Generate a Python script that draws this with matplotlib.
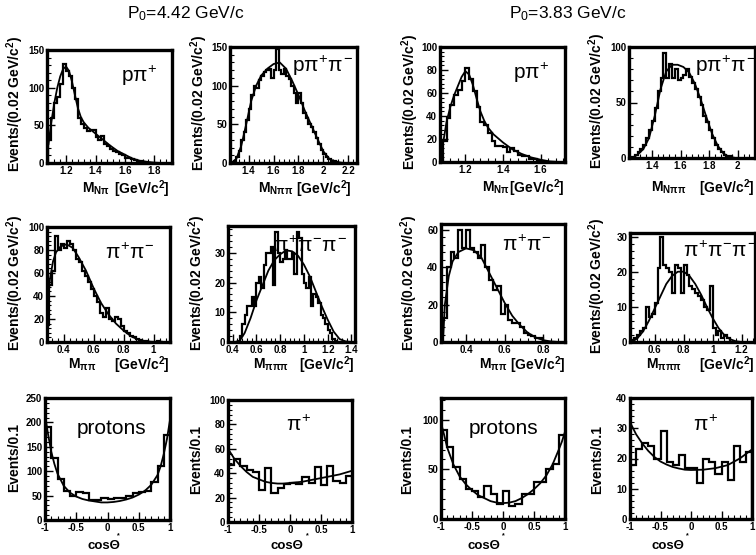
import numpy as np
import matplotlib
matplotlib.use("Agg")
import matplotlib.pyplot as plt
from matplotlib.ticker import MultipleLocator, AutoMinorLocator, FuncFormatter

plt.rcParams["font.family"] = ["Liberation Sans", "DejaVu Sans"]
plt.rcParams["font.weight"] = "bold"
plt.rcParams["mathtext.fontset"] = "custom"
plt.rcParams["mathtext.rm"] = "Liberation Sans:weight=normal"
plt.rcParams["mathtext.it"] = "Liberation Sans:weight=normal"
plt.rcParams["mathtext.bf"] = "Liberation Sans:weight=bold"
plt.rcParams["axes.unicode_minus"] = False

W, H = 756, 555
MASS_BIN = 0.02
COS_BIN = 0.1

# ---------------- P0 = 4.42 GeV/c ----------------
# p pi+ mass
npi_a_lo = 1.08
npi_a = [30, 60, 80, 88, 105, 132, 122, 115, 100, 85, 60, 52, 46, 42, 44, 44, 35, 30,
         36, 25, 22, 18, 16, 15, 12, 10, 7, 6, 5, 4, 3, 2, 1, 1, 0]
npi_a_fit_x = [1.08, 1.10, 1.12, 1.14, 1.16, 1.18, 1.20, 1.22, 1.24, 1.26, 1.28, 1.30,
               1.32, 1.35, 1.40, 1.45, 1.50, 1.55, 1.60, 1.65, 1.70, 1.75, 1.80, 1.85]
npi_a_fit_y = [25, 55, 80, 100, 115, 125, 128, 122, 108, 90, 73, 61,
               54, 47, 39, 31, 23, 16, 11, 6, 3, 1.5, 0.5, 0]

# p pi+ pi- mass
nppi_a_lo = 1.28
nppi_a = [3, 8, 15, 30, 40, 55, 70, 88, 100, 97, 107, 113, 118, 120, 122, 110, 120, 148,
          120, 115, 122, 112, 108, 100, 90, 78, 90, 77, 65, 58, 50, 47, 40, 32, 24, 17,
          12, 8, 5, 3, 2, 1]
nppi_a_fit_x = [1.26, 1.30, 1.34, 1.38, 1.42, 1.46, 1.50, 1.55, 1.60, 1.65, 1.70, 1.75,
                1.80, 1.85, 1.90, 1.95, 2.00, 2.05, 2.10, 2.15, 2.20]
nppi_a_fit_y = [0, 5, 22, 50, 80, 100, 113, 122, 128, 130, 122, 106,
                88, 68, 50, 32, 15, 5, 1.5, 0.3, 0]

# pi+ pi- mass
pipi_a_lo = 0.28
pipi_a = [15, 50, 62, 92, 80, 85, 82, 88, 85, 80, 72, 70, 62, 57, 52, 46, 40, 35, 25,
          22, 30, 20, 18, 22, 20, 14, 10, 8, 5, 4, 3, 2, 1, 0.5, 0, 0, 0, 0.5, 0]
pipi_a_fit_x = [0.28, 0.29, 0.31, 0.33, 0.35, 0.38, 0.42, 0.46, 0.50, 0.55, 0.60, 0.65,
                0.70, 0.75, 0.80, 0.85, 0.90, 0.95, 1.00]
pipi_a_fit_y = [0, 25, 55, 70, 78, 83, 85, 82, 74, 62, 47, 34,
                24, 16, 10, 5, 2, 0.5, 0]

# pi+ pi- pi- mass
pi3_a_lo = 0.46
pi3_a = [2, 6, 9, 12, 12, 15, 12, 20, 22, 18, 26, 30, 30, 32, 19, 37, 30, 27, 28, 31,
         28, 28, 30, 23, 37, 35, 23, 20, 18, 22, 12, 16, 15, 13, 9, 8, 6, 4, 3, 1, 0.5]
pi3_a_fit_x = [0.42, 0.46, 0.50, 0.55, 0.60, 0.65, 0.70, 0.75, 0.80, 0.85, 0.90, 0.95,
               1.00, 1.05, 1.10, 1.15, 1.20, 1.25, 1.30, 1.35, 1.40]
pi3_a_fit_y = [0, 0.5, 3, 8, 14, 19, 24, 27.5, 29.5, 30.8, 30.5, 29,
               26, 22, 17, 12, 7.5, 3.5, 1, 0.2, 0]

# cos theta*, protons and pi+
cos_p_a = [190, 128, 85, 60, 50, 58, 56, 42, 40, 45, 44, 46, 45, 50, 55, 58, 60, 78, 110, 175]
cos_p_a_fit_x = [-1, -0.95, -0.9, -0.85, -0.8, -0.7, -0.6, -0.5, -0.4, -0.3, -0.2, -0.1, 0,
                 0.1, 0.2, 0.3, 0.4, 0.5, 0.6, 0.7, 0.8, 0.85, 0.9, 0.95, 1]
cos_p_a_fit_y = [215, 175, 140, 115, 95, 70, 56, 48, 43, 40, 38, 36, 36,
                 37, 39, 42, 46, 52, 60, 72, 92, 110, 135, 165, 205]
cos_pi_a = [47, 52, 46, 43, 41, 26, 44, 24, 28, 31, 32, 31, 37, 32, 45, 30, 46, 34, 32, 38]
cos_pi_a_fit_x = [-1, -0.9, -0.8, -0.7, -0.6, -0.5, -0.4, -0.3, -0.2, -0.1, 0, 0.2, 0.4, 0.6, 0.8, 1]
cos_pi_a_fit_y = [60, 52, 46, 41, 37, 35, 33, 32, 31.5, 31.5, 32, 33, 35, 37, 39, 42]

# ---------------- P0 = 3.83 GeV/c ----------------
npi_b_lo = 1.08
npi_b = [18, 38, 50, 58, 63, 70, 82, 72, 62, 48, 35, 32, 25, 18, 14, 14, 13, 9, 12, 10,
         6, 5, 5, 3, 3, 1]
npi_b_fit_x = [1.08, 1.10, 1.12, 1.14, 1.16, 1.18, 1.20, 1.22, 1.24, 1.26, 1.28, 1.30,
               1.32, 1.35, 1.40, 1.45, 1.50, 1.55, 1.60, 1.65, 1.70]
npi_b_fit_y = [15, 35, 48, 58, 66, 74, 79, 76, 67, 55, 44, 36,
               30, 24, 17, 11, 7, 4, 2, 0.5, 0]

nppi_b_lo = 1.26
nppi_b = [1, 3, 5, 8, 12, 18, 25, 33, 45, 60, 72, 95, 72, 85, 72, 80, 70, 72, 75, 80,
          73, 68, 62, 55, 48, 38, 32, 25, 18, 12, 8, 5, 3, 1, 2, 0]
nppi_b_fit_x = [1.26, 1.30, 1.34, 1.38, 1.42, 1.46, 1.50, 1.54, 1.58, 1.62, 1.66, 1.70,
                1.74, 1.78, 1.82, 1.86, 1.90, 1.94, 1.98]
nppi_b_fit_y = [0, 3, 8, 18, 38, 62, 78, 84, 84, 82, 77, 67,
                53, 37, 22, 11, 4, 1, 0]

pipi_b_lo = 0.28
pipi_b = [13, 40, 48, 45, 60, 50, 60, 50, 48, 45, 52, 40, 33, 28, 30, 15, 20, 12, 10,
          10, 8, 5, 4, 3, 2, 2, 0]
pipi_b_fit_x = [0.28, 0.29, 0.31, 0.33, 0.36, 0.40, 0.44, 0.48, 0.52, 0.56, 0.60, 0.64,
                0.68, 0.72, 0.76, 0.80, 0.84, 0.88]
pipi_b_fit_y = [0, 20, 35, 43, 48, 50, 49, 45, 37, 29, 21, 14,
                9, 5, 2.5, 1, 0.3, 0]

pi3_b_lo = 0.44
pi3_b = [0.5, 1, 2, 3, 4, 10, 7, 8, 11, 21, 30, 22, 21, 20, 14, 22, 21, 14, 22, 19,
         16, 15, 14, 13, 12, 10, 9, 16, 4, 2, 3, 1, 2, 1, 0]
pi3_b_fit_x = [0.44, 0.48, 0.52, 0.56, 0.60, 0.64, 0.68, 0.72, 0.76, 0.80, 0.84, 0.88,
               0.92, 0.96, 1.00, 1.04, 1.08, 1.12, 1.16, 1.20]
pi3_b_fit_y = [0, 1, 3, 6, 9.5, 13, 16.5, 18.8, 20, 20, 18.8, 16.5,
               13.5, 10, 6.8, 4, 2, 0.8, 0.2, 0]

cos_p_b = [90, 73, 52, 40, 30, 28, 22, 33, 25, 15, 28, 13, 15, 25, 25, 37, 37, 50, 55, 85]
cos_p_b_fit_x = [-1, -0.95, -0.9, -0.8, -0.7, -0.6, -0.5, -0.4, -0.3, -0.2, -0.1, 0,
                 0.1, 0.2, 0.3, 0.4, 0.5, 0.6, 0.7, 0.8, 0.9, 0.95, 1]
cos_p_b_fit_y = [97, 85, 72, 55, 43, 35, 29, 24, 21, 18, 16.5, 16,
                 16.5, 18, 21, 25, 30, 36, 44, 55, 70, 78, 88]
cos_pi_b = [18, 23, 25, 24, 20, 29, 19, 18, 21, 17, 17, 12, 20, 19, 15, 19, 13, 24, 19, 22]
cos_pi_b_fit_x = [-1, -0.9, -0.8, -0.7, -0.6, -0.5, -0.4, -0.3, -0.2, -0.1, 0, 0.2, 0.4, 0.6, 0.8, 1]
cos_pi_b_fit_y = [32, 28, 25, 22.5, 20.5, 19, 18, 17.2, 16.7, 16.3, 16.2, 16.3, 16.8, 17.8, 20, 23]

COS_LO = -1.0

# layout: pixel box (left, top, right, bottom), limits, major tick steps
panels = [
    ((47, 50, 172, 163), (1.07, 1.92), (0, 150), 0.2, 50, npi_a_lo, MASS_BIN, npi_a, npi_a_fit_x, npi_a_fit_y),
    ((230, 47, 357, 163), (1.25, 2.27), (0, 150), 0.2, 50, nppi_a_lo, MASS_BIN, nppi_a, nppi_a_fit_x, nppi_a_fit_y),
    ((440, 47, 565, 162), (1.065, 1.73), (0, 100), 0.2, 20, npi_b_lo, MASS_BIN, npi_b, npi_b_fit_x, npi_b_fit_y),
    ((629, 47, 755, 158), (1.24, 2.12), (0, 100), 0.2, 50, nppi_b_lo, MASS_BIN, nppi_b, nppi_b_fit_x, nppi_b_fit_y),
    ((47, 227, 170, 342), (0.29, 1.11), (0, 100), 0.2, 20, pipi_a_lo, MASS_BIN, pipi_a, pipi_a_fit_x, pipi_a_fit_y),
    ((228, 226, 355, 342), (0.36, 1.43), (0, 39), 0.2, 10, pi3_a_lo, MASS_BIN, pi3_a, pi3_a_fit_x, pi3_a_fit_y),
    ((441, 224, 565, 342), (0.27, 0.914), (0, 63), 0.2, 20, pipi_b_lo, MASS_BIN, pipi_b, pipi_b_fit_x, pipi_b_fit_y),
    ((630, 233, 755, 342), (0.43, 1.292), (0, 31), 0.2, 10, pi3_b_lo, MASS_BIN, pi3_b, pi3_b_fit_x, pi3_b_fit_y),
    ((45, 398, 170, 520), (-1, 1), (0, 250), 0.5, 50, COS_LO, COS_BIN, cos_p_a, cos_p_a_fit_x, cos_p_a_fit_y),
    ((228, 400, 352, 522), (-1, 1), (0, 100), 0.5, 20, COS_LO, COS_BIN, cos_pi_a, cos_pi_a_fit_x, cos_pi_a_fit_y),
    ((441, 398, 565, 519), (-1, 1), (0, 122), 0.5, 50, COS_LO, COS_BIN, cos_p_b, cos_p_b_fit_x, cos_p_b_fit_y),
    ((630, 398, 752, 519), (-1, 1), (0, 40), 0.5, 10, COS_LO, COS_BIN, cos_pi_b, cos_pi_b_fit_x, cos_pi_b_fit_y),
]

fig = plt.figure(figsize=(W / 100, H / 100), dpi=100)


def rect(l, t, r, b):
    return [l / W, 1 - b / H, (r - l) / W, (b - t) / H]


def text_px(x, y, s, **kw):
    fig.text(x / W, 1 - y / H, s, **kw)


fmt = FuncFormatter(lambda v, p: "%g" % round(v, 6))

for box, xlim, ylim, xmaj, ymaj, lo, width, vals, fx, fy in panels:
    ax = fig.add_axes(rect(*box))
    edges = lo + width * np.arange(len(vals) + 1)
    ax.stairs(vals, edges, baseline=0, color="black", lw=1.6)
    ax.plot(fx, fy, color="black", lw=1.3)
    ax.set_xlim(*xlim)
    ax.set_ylim(*ylim)
    ax.xaxis.set_major_locator(MultipleLocator(xmaj))
    ax.yaxis.set_major_locator(MultipleLocator(ymaj))
    ax.xaxis.set_minor_locator(AutoMinorLocator(5))
    ax.yaxis.set_minor_locator(AutoMinorLocator(5))
    ax.xaxis.set_major_formatter(fmt)
    ax.yaxis.set_major_formatter(fmt)
    ax.tick_params(which="both", direction="in", top=False, right=False,
                   labelsize=7, pad=2)
    ax.tick_params(which="major", length=6, width=1)
    ax.tick_params(which="minor", length=3, width=0.8)
    for sp in ax.spines.values():
        sp.set_linewidth(2.4)

# titles
text_px(186, 14, r"P$_{0}$=4.42 GeV/c", fontsize=12.5, fontweight="normal", ha="center", va="center")
text_px(568, 14, r"P$_{0}$=3.83 GeV/c", fontsize=12.5, fontweight="normal", ha="center", va="center")

# panel labels
labels = [
    (139, 76, r"p$\pi^{+}$"), (323, 66, r"p$\pi^{+}\pi^{-}$"),
    (531, 73, r"p$\pi^{+}$"), (726, 66, r"p$\pi^{+}\pi^{-}$"),
    (130, 253, r"$\pi^{+}\pi^{-}$"), (310, 246, r"$\pi^{+}\pi^{-}\pi^{-}$"),
    (527, 245, r"$\pi^{+}\pi^{-}$"), (720, 251, r"$\pi^{+}\pi^{-}\pi^{-}$"),
    (111, 428, "protons"), (299, 425, r"$\pi^{+}$"),
    (504, 428, "protons"), (706, 425, r"$\pi^{+}$"),
]
for x, y, s in labels:
    text_px(x, y, s, fontsize=15, fontweight="normal", ha="center", va="center")

# y axis titles
ylab_mass = r"Events/(0.02 GeV/c$^{\mathbf{2}}$)"
for x, y in [(15, 104), (199, 103), (410, 102), (597, 101),
             (15, 283), (197, 283), (409, 283), (597, 286)]:
    text_px(x, y, ylab_mass, fontsize=10, rotation=90, ha="center", va="center")
for x, y in [(14, 458), (196, 460), (407, 459), (597, 459)]:
    text_px(x, y, "Events/0.1", fontsize=10, rotation=90, ha="center", va="center")

# x axis titles
units = r"[GeV/c$^{\mathbf{2}}$]"
xlabs = [
    (82, 170, 189, r"$\mathbf{M_{N\pi}}$"), (258, 352, 189, r"$\mathbf{M_{N\pi\pi}}$"),
    (482, 565, 188, r"$\mathbf{M_{N\pi}}$"), (651, 755, 188, r"$\mathbf{M_{N\pi\pi}}$"),
    (68, 170, 365, r"$\mathbf{M_{\pi\pi}}$"), (253, 355, 365, r"$\mathbf{M_{\pi\pi\pi}}$"),
    (479, 566, 365, r"$\mathbf{M_{\pi\pi}}$"), (646, 755, 365, r"$\mathbf{M_{\pi\pi\pi}}$"),
]
for xm, xu, y, m in xlabs:
    text_px(xm, y, m, fontsize=10, ha="left", va="center")
    text_px(xu, y, units, fontsize=10, ha="right", va="center")

for xc, xs in [(104, 118), (287, 307), (484, 503), (668, 687)]:
    text_px(xc, 546, "cos\u0398", fontsize=9.5, ha="center", va="center")
    text_px(xs, 532, "*", fontsize=5, ha="center", va="top")

fig.savefig("out.png", dpi=100)
